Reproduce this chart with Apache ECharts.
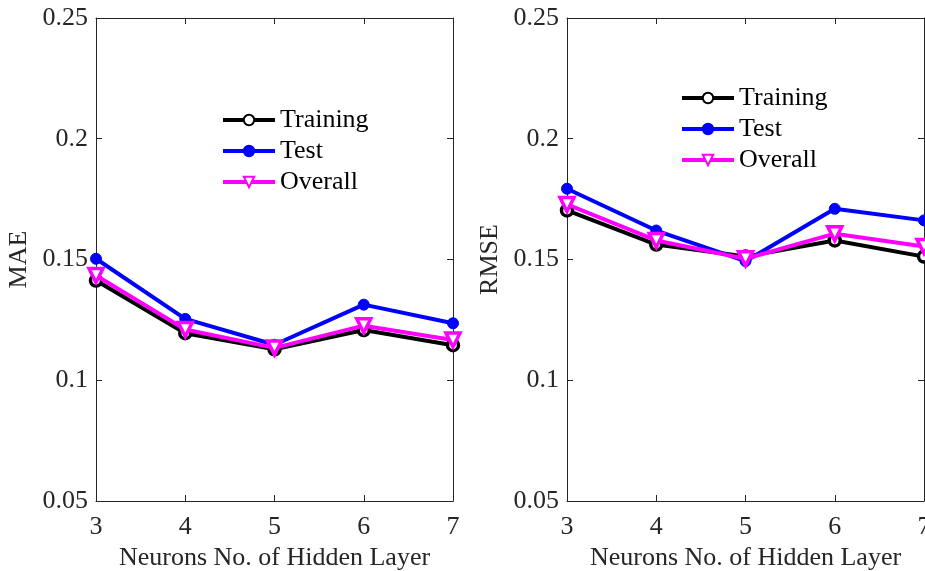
<!DOCTYPE html>
<html><head><meta charset="utf-8">
<script src="https://cdn.jsdelivr.net/npm/echarts@6/dist/echarts.min.js"></script>
<style>html,body{margin:0;padding:0;background:#fff}#c{width:925px;height:571px}</style>
</head><body><div id="c"></div>
<script>
const neurons = [3, 4, 5, 6, 7];
const maeTraining = [0.1413, 0.1195, 0.1128, 0.1208, 0.1145];
const maeTest     = [0.1503, 0.1254, 0.1147, 0.1313, 0.1236];
const maeOverall  = [0.1434, 0.1210, 0.1134, 0.1226, 0.1167];
const rmseTraining = [0.1703, 0.1562, 0.1512, 0.1579, 0.1512];
const rmseTest     = [0.1793, 0.1620, 0.1493, 0.1710, 0.1662];
const rmseOverall  = [0.1728, 0.1579, 0.1503, 0.1607, 0.1554];
const yTicks = [0.05, 0.1, 0.15, 0.2, 0.25];
const xName = 'Neurons No. of Hidden Layer';
const yNames = ['MAE', 'RMSE'];

const FONT = '"Liberation Serif", "Times New Roman", serif';
const AX = '#262626';
const FS = 26;
const pair = (ys) => neurons.map((x, i) => [x, ys[i]]);

const grids = [
  {left: 96, top: 18, width: 357, height: 483, outerBoundsMode: 'none', containLabel: false},
  {left: 567, top: 18, width: 357, height: 483, outerBoundsMode: 'none', containLabel: false}
];
const xAxes = [], yAxes = [];
for (let g = 0; g < 2; g++) {
  xAxes.push({type:'value', gridIndex:g, min:3, max:7, interval:1, position:'bottom',
    name:xName, nameLocation:'middle', nameGap:44,
    nameTextStyle:{fontFamily:FONT, fontSize:FS, color:AX},
    axisLine:{show:true, onZero:false, lineStyle:{color:AX, width:1}},
    axisTick:{show:true, inside:true, length:6, lineStyle:{color:AX}},
    axisLabel:{fontFamily:FONT, fontSize:FS, color:AX, margin:13},
    splitLine:{show:false}});
  xAxes.push({type:'value', gridIndex:g, min:3, max:7, interval:1, position:'top',
    axisLine:{show:true, onZero:false, lineStyle:{color:AX, width:1}},
    axisTick:{show:true, inside:true, length:6, lineStyle:{color:AX}},
    axisLabel:{show:false}, splitLine:{show:false}});
  yAxes.push({type:'value', gridIndex:g, min:0.05, max:0.25, interval:0.05, position:'left',
    name:yNames[g], nameLocation:'middle', nameGap:64,
    nameTextStyle:{fontFamily:FONT, fontSize:FS, color:AX},
    axisLine:{show:true, onZero:false, lineStyle:{color:AX, width:1}},
    axisTick:{show:true, inside:true, length:6, lineStyle:{color:AX}},
    axisLabel:{fontFamily:FONT, fontSize:FS, color:AX, margin:8,
      formatter: v => String(+v.toFixed(2))},
    splitLine:{show:false}});
  yAxes.push({type:'value', gridIndex:g, min:0.05, max:0.25, interval:0.05, position:'right',
    axisLine:{show:true, onZero:false, lineStyle:{color:AX, width:1}},
    axisTick:{show:true, inside:true, length:6, lineStyle:{color:AX}},
    axisLabel:{show:false}, splitLine:{show:false}});
}

function mk(name, data, g, kind) {
  const base = {name, type:'line', data:pair(data), xAxisIndex:g*2, yAxisIndex:g*2,
    animation:false, z: kind==='test'?3:(kind==='overall'?4:2)};
  if (kind === 'training') {
    Object.assign(base, {symbol:'circle', symbolSize:11, color:'#000000',
      itemStyle:{color:'#ffffff', borderColor:'#000000', borderWidth:3.5},
      lineStyle:{width:4, color:'#000000'}});
  } else if (kind === 'test') {
    Object.assign(base, {symbol:'circle', symbolSize:11, color:'#0000ff',
      itemStyle:{color:'#0000ff', borderColor:'#0000ff', borderWidth:1},
      lineStyle:{width:4, color:'#0000ff'}});
  } else {
    Object.assign(base, {symbol:'triangle', symbolRotate:180, symbolSize:14, color:'#ff00ff',
      itemStyle:{color:'#ffffff', borderColor:'#ff00ff', borderWidth:3.5},
      lineStyle:{width:4, color:'#ff00ff'}});
  }
  return base;
}

const series = [
  mk('Training', maeTraining, 0, 'training'),
  mk('Test', maeTest, 0, 'test'),
  mk('Overall', maeOverall, 0, 'overall'),
  mk('Training ', rmseTraining, 1, 'training'),
  mk('Test ', rmseTest, 1, 'test'),
  mk('Overall ', rmseOverall, 1, 'overall')
];

const legendCommon = {orient:'vertical', itemWidth:52, itemHeight:13, itemGap:5,
  lineStyle:{width:4},
  textStyle:{fontFamily:FONT, fontSize:FS, color:'#000'}, selectedMode:false};

const chart = echarts.init(document.getElementById('c'), null, {renderer:'canvas'});
chart.setOption({
  backgroundColor:'#ffffff',
  animation:false,
  grid:grids,
  xAxis:xAxes,
  yAxis:yAxes,
  legend:[
    Object.assign({left:216, top:102, data:['Training','Test','Overall']}, legendCommon),
    Object.assign({left:675, top:80, data:['Training ','Test ','Overall '],
      formatter: n => n.trim()}, legendCommon)
  ],
  series
});
</script></body></html>
